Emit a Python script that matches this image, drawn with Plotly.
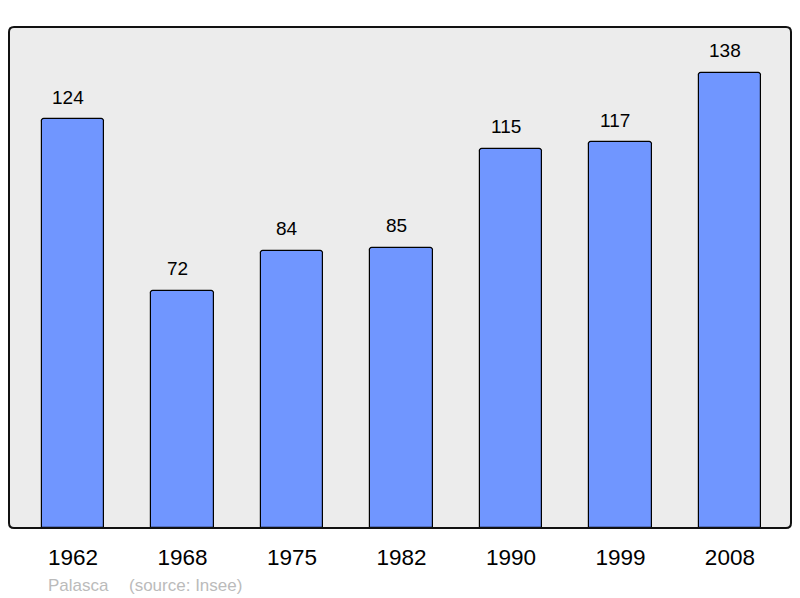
import plotly.graph_objects as go

years = ["1962", "1968", "1975", "1982", "1990", "1999", "2008"]
population = [124, 72, 84, 85, 115, 117, 138]
commune = "Palasca"
source = "(source: Insee)"

OFF = 8  # page body margin
W, H = 800 - OFF, 598 - OFF
L, R, T, B = 9 - OFF, 9, 27 - OFF, 70
pw, ph = W - L - R, H - T - B
FONT = "Liberation Sans, Arial, sans-serif"

fig = go.Figure()
fig.add_trace(go.Bar(
    x=list(range(len(years))), y=population,
    width=0.57,
    marker=dict(color="#7096ff", line=dict(color="#000000", width=1.2), cornerradius=3),
    hovertext=years, hoverinfo="text+y",
))

for i, v in enumerate(population):
    fig.add_annotation(x=i, y=v, text=str(v), showarrow=False,
                       xref="x", yref="y", yanchor="middle", yshift=22, xshift=-5,
                       font=dict(family=FONT, size=19, color="#000000"))

# rounded border of plot area
rx, ry = 5 / pw, 5 / ph
path = (f"M {rx},0 L {1-rx},0 Q 1,0 1,{ry} L 1,{1-ry} Q 1,1 {1-rx},1 "
        f"L {rx},1 Q 0,1 0,{1-ry} L 0,{ry} Q 0,0 {rx},0 Z")
fig.add_shape(type="path", path=path, xref="paper", yref="paper",
              line=dict(color="#111111", width=2), layer="above")

fy = -(585 - 528) / ph
fig.add_annotation(x=(46 - 9) / pw, y=fy, xref="paper", yref="paper",
                   text=commune, showarrow=False, xanchor="left", yanchor="middle",
                   font=dict(family=FONT, size=17, color="#bbbbbb"))
fig.add_annotation(x=(127 - 9) / pw, y=fy, xref="paper", yref="paper",
                   text=source, showarrow=False, xanchor="left", yanchor="middle",
                   font=dict(family=FONT, size=17, color="#bbbbbb"))

fig.update_layout(
    width=W, height=H,
    margin=dict(l=L, r=R, t=T, b=B, pad=0),
    paper_bgcolor="#ffffff", plot_bgcolor="#ececec",
    showlegend=False,
    xaxis=dict(range=[-0.584, 6.558], showgrid=False, zeroline=False,
               showline=False, ticks="outside", ticklen=9, tickcolor="rgba(0,0,0,0)",
               tickmode="array", tickvals=list(range(len(years))), ticktext=years,
               tickfont=dict(family=FONT, size=22.5, color="#000000")),
    yaxis=dict(range=[0, 151.9], showgrid=False, zeroline=False, showline=False,
               showticklabels=False, ticks=""),
    bargap=0,
)

fig.write_html("out.html")
